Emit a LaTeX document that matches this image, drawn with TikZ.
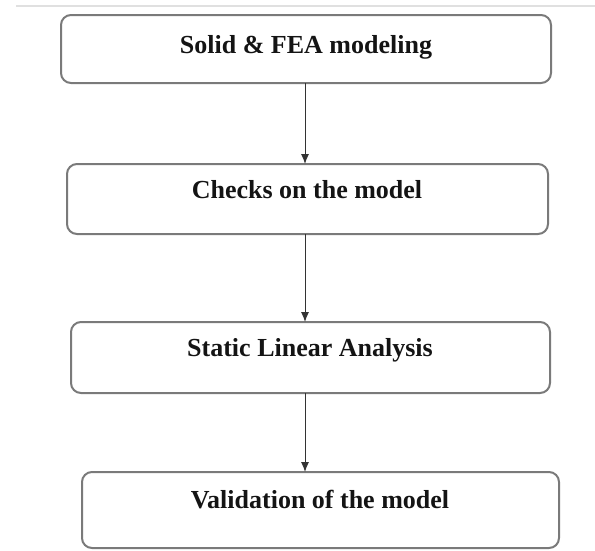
\documentclass[tikz,border=0pt]{standalone}
\usepackage{fontspec}
\setmainfont{Liberation Serif}
\usetikzlibrary{arrows.meta}
\begin{document}
\begin{tikzpicture}[x=1pt,y=-1pt,
  stagebox/.style={draw=black!52, line width=2pt, rounded corners=10pt, fill=white},
  stagetext/.style={font=\bfseries\fontsize{26}{30}\selectfont, text=black!92, inner sep=0pt},
  flow/.style={draw=black!80, line width=1pt, -{Latex[length=10pt,width=8pt]}}]
  \useasboundingbox (0,0) rectangle (595,550);
  % thin rule across the top
  \draw[black!12, line width=1.5pt] (16,6) -- (595,6);
  % process boxes
  \draw[stagebox] (61,15) rectangle (551,83);
  \draw[stagebox] (67,164) rectangle (548,234);
  \draw[stagebox] (71,322) rectangle (550,393);
  \draw[stagebox] (82,472) rectangle (559,548);
  \coordinate (b1s) at (305,83);
  \coordinate (b2n) at (305,164);
  \coordinate (b2s) at (305,234);
  \coordinate (b3n) at (305,322);
  \coordinate (b3s) at (305,393);
  \coordinate (b4n) at (305,472);
  % labels
  \node[stagetext] (t1) at (306,47.5) {Solid \& FEA modeling};
  \node[stagetext] (t2) at (307,190) {Checks on the model};
  \node[stagetext] (t3) at (310,350) {Static Linear Analysis};
  \node[stagetext] (t4) at (320,500) {Validation of the model};
  % connectors
  \draw[flow] (b1s) -- (b2n);
  \draw[flow] (b2s) -- (b3n);
  \draw[flow] (b3s) -- (b4n);
\end{tikzpicture}
\end{document}
